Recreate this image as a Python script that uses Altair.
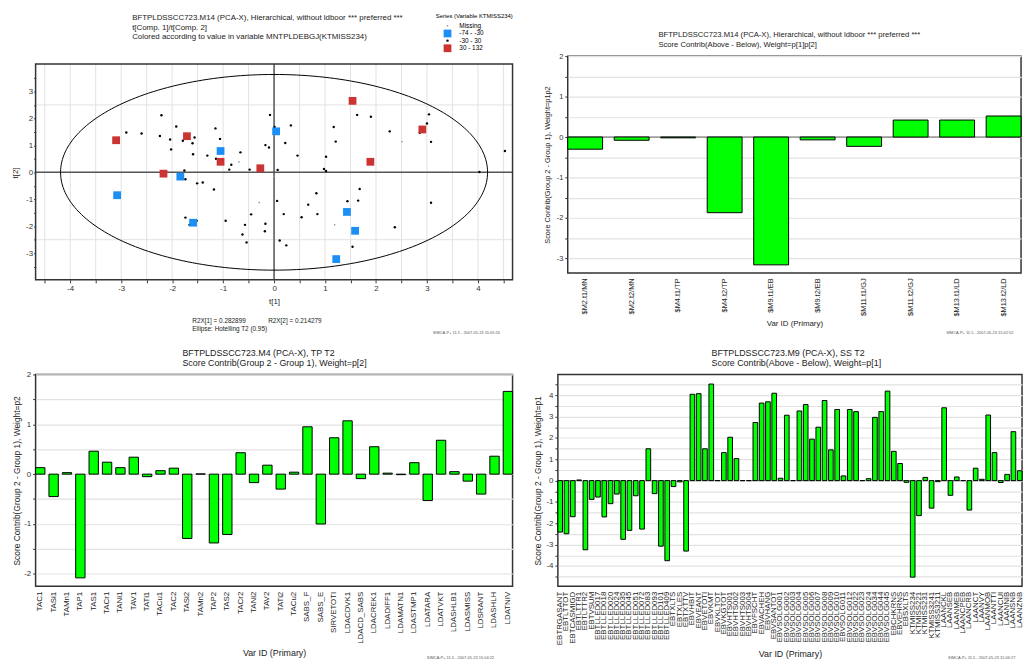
import altair as alt
import numpy as np
import pandas as pd

FONT = "Liberation Sans"
GRID = "#e2e2e2"
GREEN = "#00ff00"
FRAME = "#333333"

# ================= Panel 1 (top-left): score plot t[1]/t[2] =================
mid_x = [-2.21, -1.92, -2.90, -2.60, -2.24, -2.04, -1.79, -1.56, -1.60, -2.02, -1.59, -1.15,
         -1.06, -1.31, -1.14, -0.66, -0.84, -0.88, -0.48, -1.76, -1.74, -1.51, -1.40, -1.18,
         -1.74, -1.66, -1.52, -0.95, -0.45, -0.57, -0.62, -0.54, -0.08, 0.01, 0.33, -0.17,
         -0.10, 0.22, 0.46, 0.07, 0.06, 0.19, -0.17, -0.18, 0.11, 0.24, 0.54, 0.67, 0.83, 0.85,
         1.02, 0.98, 1.02, 1.17, 1.21, 1.63, 1.90, 1.44, 1.65, 1.68, 1.54, 2.27, 2.37, 2.86,
         3.00, 3.04, 3.08, 3.08, 4.03, 4.53]
mid_y = [2.12, 1.70, 1.48, 1.44, 1.35, 1.22, 1.17, 1.29, 1.08, 0.85, 0.67, 1.63,
         1.24, 0.62, 0.50, 0.74, 0.28, 0.10, 0.10, 0.07, -0.26, -0.41, -0.38, -0.64,
         -1.68, -1.95, -1.80, -1.80, -1.56, -1.95, -2.31, -2.60, 2.13, 1.68, 1.74, 1.01,
         0.92, 1.09, 0.62, 0.09, -1.06, -1.55, -1.91, -2.19, -2.53, -2.71, -1.67, -1.20, -0.78, -1.55,
         0.58, 0.12, 0.05, 1.68, 1.14, 2.13, 2.06, -1.07, -1.05, -0.62, -2.76, 1.52, -2.04, 1.47,
         1.81, 2.15, 1.13, -1.13, 0.01, 0.79]
missing_x = [-0.69, 2.51, 1.19, 0.00, -0.29]
missing_y = [0.39, 1.14, -1.95, -0.15, -1.12]
low_x = [-1.05, -1.84, -3.08, -1.59, 0.04, 1.43, 1.59, 1.22]
low_y = [0.79, -0.16, -0.85, -1.87, 1.52, -1.47, -2.17, -3.22]
high_x = [-3.10, -1.71, -1.05, -2.17, -0.27, 1.54, 2.91, 1.89]
high_y = [1.19, 1.34, 0.39, -0.05, 0.15, 2.65, 1.59, 0.39]

series_names = ["Missing", "-74 - -30", "-30 - 30", "30 - 132"]
series_colors = ["#9a9a9a", "#1b8ff5", "#000000", "#cc3333"]
series_shapes = ["circle", "square", "circle", "square"]
series_sizes = [3, 62, 6, 62]

ellipse_a = 4.19
ellipse_b = 3.63

tl_xdom = [-4.68, 4.68]
tl_frame_y = [-3.99, 4.02]
tl_ydom = [-3.99, 4.31]
tl_hgrid = [-2.5, 2.5]

# ================= Panel 2 (top-right) =================
tr_labels = ["$M2.t1/MN", "$M2.t2/MN", "$M4.t1/TP", "$M4.t2/TP", "$M9.t1/EB",
             "$M9.t2/EB", "$M11.t1/GJ", "$M11.t2/GJ", "$M13.t1/LD", "$M13.t2/LD"]
tr_values = [-0.30, -0.08, -0.02, -1.87, -3.16, -0.07, -0.23, 0.42, 0.42, 0.52]

# ================= Panel 3 (bottom-left) =================
bl_labels = ["TAC1", "TASi1", "TAMn1", "TAP1", "TAS1", "TACr1", "TANi1", "TAV1", "TATi1",
             "TACu1", "TAC2", "TASi2", "TAMn2", "TAP2", "TAS2", "TACr2", "TANi2", "TAV2",
             "TATi2", "TACu2", "SABS_F", "SABS_E", "SIRVETOTI", "LDACDVK1", "LDACD_SABS",
             "LDACREK1", "LDADIFF1", "LDAMATN1", "LDASTMP1", "LDATARA", "LDATVKT",
             "LDASHLB1", "LDASMISS", "LDSRANT", "LDASHLH", "LDATNIV"]
bl_values = [0.13, -0.45, 0.03, -2.08, 0.46, 0.24, 0.13, 0.34, -0.05, 0.07, 0.12, -1.29,
             0.005, -1.38, -1.21, 0.43, -0.17, 0.18, -0.30, 0.04, 0.95, -1.00, 0.73, 1.07,
             -0.09, 0.55, 0.02, -0.01, 0.23, -0.53, 0.68, 0.05, -0.14, -0.40, 0.36, 1.66]

# ================= Panel 4 (bottom-right) =================
br_labels = ["EBTRGASANT", "EBTLTTOT", "EBTCASMIGD", "EBTLTTR1", "EBTLTTR2", "EBTVSUM",
             "EBTLLED017", "EBTLLED018", "EBTLLED020", "EBTLLED024", "EBTLLED035",
             "EBTLLED045", "EBTLLED051", "EBTLLED072", "EBTLLED083", "EBTLLED093",
             "EBTLLED101", "EBTLLED409", "EBTXLTS", "EBTXLES", "EBTXTTV", "EBVHBIT",
             "EBVEANT", "EBVETOTI", "EBVKMT", "EBVKLTOT", "EBVKGTOT", "EBVHTS001",
             "EBVHTS002", "EBVHTS003", "EBVHTS004", "EBVFSCHT", "EBVACHEH", "EBVHANG",
             "EBVSANTOT", "EBVSOLG001", "EBVSOLG002", "EBVSOLG003", "EBVSOLG004",
             "EBVSOLG005", "EBVSOLG006", "EBVSOLG007", "EBVSOLG008", "EBVSOLG009",
             "EBVSOLG010", "EBVSOLG011", "EBVSOLG012", "EBVSOLG022", "EBVSOLG023",
             "EBVSOLG024", "EBVSOLG034", "EBVSOLG044", "EBVSOLG045", "EBCHKRNS",
             "EBVEHRNS", "EBSXLTS", "KTMISS234", "KTMISS221", "KTMISS231", "KTMISS3241",
             "KTMISS3211", "LAANCKL", "LAANSEB", "LAANMEB", "LAANCPEB", "LAANCRB",
             "LAANCT", "LAANVY", "LAANMOB", "LAANTTI", "LAANCUI", "LAANNIB", "LAANSNB",
             "LAANZNB"]
br_values = [-2.41, -2.49, -1.69, 0.03, -3.24, -0.88, -0.77, -1.70, -1.08, -0.63, -2.75,
             -2.33, -0.71, -2.27, 1.49, -0.61, -3.07, -3.75, -0.28, -0.06, -3.30, 4.04,
             4.07, 1.49, 4.52, 0.0, 1.31, 2.03, 1.03, 0.0, 0.0, 2.72, 3.63, 3.69, 4.09,
             0.11, 3.06, 0.0, 3.26, 3.56, 1.94, 2.50, 3.75, 1.44, 3.33, 0.22, 3.33, 3.23,
             0.0, 0.09, 2.96, 3.23, 4.19, 1.37, 0.80, -0.08, -4.52, -1.64, 0.15, -1.29,
             -0.05, 3.41, -0.69, 0.17, 0.0, -1.38, 0.58, 0.06, 3.07, 1.31, -0.09, 0.29,
             2.29, 0.46]

INT_LABEL = "abs(datum.value % 1) < 0.001 ? '' + datum.value : ''"


def halves(lo, hi):
    n = int(round((hi - lo) / 0.5))
    return [round(lo + 0.5 * i, 2) for i in range(n + 1)]


def note(text, x, y, size, color="#222"):
    return alt.Chart(pd.DataFrame({"n": [0]})).mark_text(
        text=text, align="left", baseline="middle", fontSize=size, font=FONT, color=color
    ).encode(x=alt.value(x), y=alt.value(y))


# ---------- top-left chart ----------
frames = []
for name, xs, ys in [("-30 - 30", mid_x, mid_y), ("Missing", missing_x, missing_y),
                     ("-74 - -30", low_x, low_y), ("30 - 132", high_x, high_y)]:
    frames.append(pd.DataFrame({"t1": xs, "t2": ys, "series": name}))
df_pts = pd.concat(frames, ignore_index=True)

theta = np.linspace(0, 2 * np.pi, 241)
df_ell = pd.DataFrame({"t1": ellipse_a * np.cos(theta), "t2": ellipse_b * np.sin(theta),
                       "i": np.arange(len(theta))})

x_tl = alt.X("t1:Q", title="t[1]",
             scale=alt.Scale(domain=tl_xdom, nice=False, zero=False),
             axis=alt.Axis(values=halves(-4.5, 4.5), tickCount=100, labelExpr=INT_LABEL,
                           grid=False, tickSize=3, labelFontSize=8, labelPadding=2,
                           labelOverlap=False, labelFlush=False,
                           titleFontSize=8, titlePadding=5))
y_tl = alt.Y("t2:Q", title="t[2]",
             scale=alt.Scale(domain=tl_ydom, nice=False, zero=False),
             axis=alt.Axis(values=halves(-3.5, 3.5), tickCount=100, labelExpr=INT_LABEL,
                           grid=False, tickSize=2, labelFontSize=8, labelPadding=1,
                           labelOverlap=False, titleFontSize=8, titlePadding=6, titleY=118))

leg = alt.Legend(title="Series (Variable KTMISS234)", orient="none", legendX=406, legendY=-44,
                 titleFontSize=6, titleFontWeight="normal", labelFontSize=6.5, padding=0,
                 rowPadding=0, symbolOffset=8, labelOffset=8, titlePadding=4,
                 symbolStrokeWidth=0)

vgrid = alt.Chart(pd.DataFrame({"t1": halves(-4.5, 4.5)})).mark_rule(
    color=GRID, strokeWidth=1).encode(x=x_tl, y=alt.datum(tl_frame_y[0]), y2=alt.datum(tl_frame_y[1]))
hgrid = alt.Chart(pd.DataFrame({"t2": tl_hgrid})).mark_rule(
    color=GRID, strokeWidth=1).encode(y=y_tl, x=alt.datum(tl_xdom[0]), x2=alt.datum(tl_xdom[1]))
zero_v = alt.Chart(pd.DataFrame({"n": [0]})).mark_rule(color="#555", strokeWidth=1.5).encode(
    x=alt.datum(0), y=alt.datum(tl_frame_y[0]), y2=alt.datum(tl_frame_y[1]))
zero_h = alt.Chart(pd.DataFrame({"n": [0]})).mark_rule(color="#555", strokeWidth=1.5).encode(
    y=alt.datum(0), x=alt.datum(tl_xdom[0]), x2=alt.datum(tl_xdom[1]))
frame = alt.Chart(pd.DataFrame({"n": [0]})).mark_rect(
    fillOpacity=0, stroke=FRAME, strokeWidth=1.5).encode(
    x=alt.datum(tl_xdom[0]), x2=alt.datum(tl_xdom[1]),
    y=alt.datum(tl_frame_y[0]), y2=alt.datum(tl_frame_y[1]))
ellipse = alt.Chart(df_ell).mark_line(color="black", strokeWidth=1).encode(x=x_tl, y=y_tl, order="i:Q")
points = alt.Chart(df_pts).mark_point(filled=True, opacity=1, strokeWidth=0).encode(
    x=x_tl, y=y_tl,
    color=alt.Color("series:N", scale=alt.Scale(domain=series_names, range=series_colors), legend=leg),
    shape=alt.Shape("series:N", scale=alt.Scale(domain=series_names, range=series_shapes), legend=leg),
    size=alt.Size("series:N", scale=alt.Scale(type="ordinal", domain=series_names, range=series_sizes),
                  legend=leg),
)

tl = alt.layer(
    vgrid, hgrid, zero_v, zero_h, ellipse, frame, points,
    note("R2X[1] = 0.282899", 159, 269, 6.5),
    note("R2X[2] = 0.214279", 236, 269, 6.5),
    note("Ellipse: Hotelling T2 (0.95)", 159, 277, 6.5),
    note("SIMCA-P+ 11.5 - 2007-05-23 15:05:26", 403, 281, 4, "#555"),
).properties(
    width=484, height=227,
    view=alt.ViewBackground(stroke="transparent"),
    title=alt.TitleParams(
        ["BFTPLDSSCC723.M14 (PCA-X), Hierarchical, without ldboor *** preferred ***",
         "t[Comp. 1]/t[Comp. 2]",
         "Colored according to value in variable MNTPLDEBGJ(KTMISS234)"],
        anchor="start", frame="group", dx=98, offset=15, fontSize=8, lineHeight=10,
        fontWeight="normal", font=FONT, color="#222"),
)


def bar_panel(labels, values, width, height, ydom, ylo, yhi, ytitle, title_lines, dx,
              title_size, title_offset, xlabel_size, ylabel_size, ytitle_size, ytitle_pad,
              pad_inner, zero_style, footer, fx, fy, xtitle_size, xtitle_pad, line_h):
    df = pd.DataFrame({"var": labels, "val": values})
    x = alt.X("var:N", sort=None, title="Var ID (Primary)",
              scale=alt.Scale(paddingInner=pad_inner, paddingOuter=0),
              axis=alt.Axis(labelAngle=270, ticks=False, labelPadding=5,
                            labelFontSize=xlabel_size, labelOverlap=False,
                            titleFontSize=xtitle_size, titlePadding=xtitle_pad,
                            labelColor="#222"))
    y = alt.Y("val:Q", title=ytitle,
              scale=alt.Scale(domain=ydom, nice=False, zero=False),
              axis=alt.Axis(values=halves(ylo, yhi), tickCount=100, labelExpr=INT_LABEL,
                            grid=True, gridColor=GRID, gridWidth=1.2, tickSize=3,
                            labelOverlap=False, labelFontSize=ylabel_size, labelPadding=2,
                            titleFontSize=ytitle_size, titlePadding=ytitle_pad))
    layers = []
    if zero_style is not False:
        layers.append(alt.Chart(pd.DataFrame({"n": [0]})).mark_rule(
            color="#555", strokeWidth=1, strokeDash=zero_style).encode(y=alt.datum(0)))
    bars = alt.Chart(df).mark_bar(color=GREEN, stroke="black", strokeWidth=1).encode(
        x=x, y=y, y2=alt.datum(0))
    layers.append(bars)
    layers.append(note(footer, fx, fy, 4, "#555"))
    return alt.layer(*layers).properties(
        width=width, height=height,
        title=alt.TitleParams(title_lines, anchor="start", frame="group", dx=dx,
                              offset=title_offset, fontSize=title_size, lineHeight=line_h,
                              fontWeight="normal", font=FONT, color="#222"),
    )


tr = bar_panel(tr_labels, tr_values, 460, 220, [-3.36, 2.0], -3.0, 2.0,
               "Score Contrib(Group 2 - Group 1), Weight=p1p2",
               ["BFTPLDSSCC723.M14 (PCA-X), Hierarchical, without ldboor *** preferred ***",
                "Score Contrib(Above - Below), Weight=p[1]p[2]"],
               92, 7.75, 4, 7.5, 7.5, 7.5, 5, 0.25, [1, 0],
               "SIMCA-P+ 11.5 - 2007-05-23 15:02:52", 384, 281, 8, 4, 9.5)

bl = bar_panel(bl_labels, bl_values, 484, 215, [-2.25, 2.0], -2.0, 2.0,
               "Score Contrib(Group 2 - Group 1), Weight=p2",
               ["BFTPLDSSCC723.M4 (PCA-X), TP T2",
                "Score Contrib(Group 2 - Group 1), Weight=p[2]"],
               149, 9, 3, 8, 8, 8.5, 2.5, 0.3, False,
               "SIMCA-P+ 11.5 - 2007-05-23 15:04:22", 397, 288, 9, 5, 10)

br = bar_panel(br_labels, br_values, 471, 215, [-4.95, 4.97], -4.5, 4.5,
               "Score Contrib(Group 2 - Group 1), Weight=p1",
               ["BFTPLDSSCC723.M9 (PCA-X), SS T2",
                "Score Contrib(Above - Below), Weight=p[1]"],
               156, 9, 7, 8, 8, 8.5, 4, 0.26, [1, 2],
               "SIMCA-P+ 11.5 - 2007-05-23 15:06:27", 396, 288, 9, 5, 10)

row1 = alt.hconcat(tl, tr, spacing=28)
row2 = alt.hconcat(bl, br, spacing=18)

chart = alt.vconcat(row1, row2, spacing=12).properties(
    padding={"left": 3, "top": 0, "right": 0, "bottom": 0}
).configure(
    font=FONT,
).configure_view(
    stroke=FRAME, strokeWidth=1.5
).configure_axis(
    labelFont=FONT, titleFont=FONT, labelColor="#333", titleColor="#222",
    titleFontWeight="normal", domain=False, tickColor="#333"
).configure_legend(
    labelFont=FONT, titleFont=FONT
)

chart.save("out.html", embed_options={"renderer": "svg", "actions": False})
